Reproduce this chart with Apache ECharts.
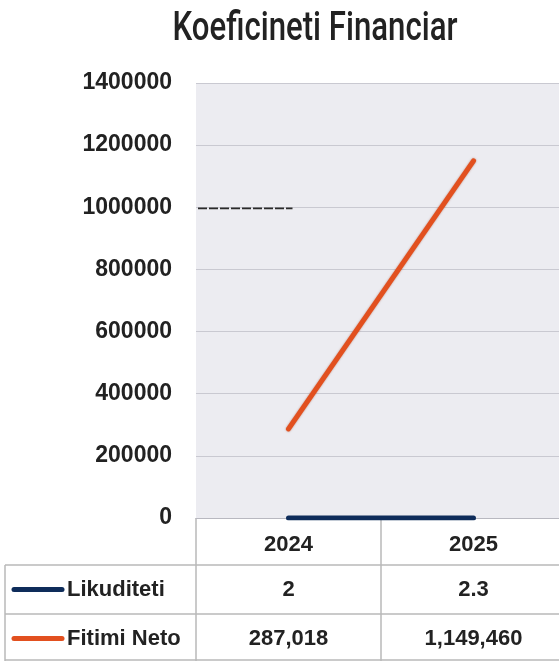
<!DOCTYPE html>
<html>
<head>
<meta charset="utf-8">
<script src="https://cdn.jsdelivr.net/npm/echarts@6/dist/echarts.min.js"></script>
<style>
html,body{margin:0;padding:0;overflow:hidden;background:#fff;}
#c{width:580px;height:661px;}
</style>
</head>
<body>
<div id="c"></div>
<script>
const titleText = 'Koeficineti Financiar';
const categories = ['2024', '2025'];
const likuditeti = [2, 2.3];
const fitimiNeto = [287018, 1149460];
const likuditetiLabels = ['2', '2.3'];
const fitimiNetoLabels = ['287,018', '1,149,460'];
const seriesNames = ['Likuditeti', 'Fitimi Neto'];
const refLineValue = 1000000;

const NAVY = '#0e2c5a';
const ORANGE = '#e2501f';
const TXT = '#222222';
const FONT = '"Liberation Sans", Arial, sans-serif';
const TITLE_FONT = 'Roboto, "Liberation Sans", sans-serif';

const chart = echarts.init(document.getElementById('c'));
const gridLeft = 196, gridTop = 83, gridBottom = 143, gridRight = 14;

chart.setOption({
  animation: false,
  grid: {left: gridLeft, top: gridTop, bottom: gridBottom, right: gridRight, show: true, backgroundColor: '#ececf1', borderWidth: 0},
  xAxis: {
    type: 'category', data: categories, boundaryGap: true,
    axisLine: {lineStyle: {color: '#b8b8c0', width: 1}},
    axisTick: {show: false},
    axisLabel: {fontFamily: FONT, fontSize: 22, fontWeight: 'bold', color: TXT, margin: 16}
  },
  yAxis: {
    type: 'value', min: 0, max: 1400000, interval: 200000,
    axisLine: {show: false}, axisTick: {show: false},
    splitLine: {lineStyle: {color: '#c9c9d1', width: 1}},
    axisLabel: {fontFamily: FONT, fontSize: 23, fontWeight: 'bold', color: TXT, margin: 24, formatter: v => String(v)}
  },
  series: [
    {
      name: seriesNames[0], type: 'line', data: likuditeti, symbol: 'none',
      lineStyle: {color: NAVY, width: 5, cap: 'round'}
    },
    {
      name: seriesNames[1], type: 'line', data: fitimiNeto, symbol: 'none',
      lineStyle: {color: ORANGE, width: 5, cap: 'round', shadowColor: 'rgba(150,40,0,0.5)', shadowBlur: 2}
    }
  ]
});

// Data table built from the axes' own scale
const centers = categories.map((c, i) => chart.convertToPixel({xAxisIndex: 0}, c));
const axisY = chart.convertToPixel({yAxisIndex: 0}, 0);
const refY = chart.convertToPixel({yAxisIndex: 0}, refLineValue);
const W = 580;
const plotL = gridLeft, plotR = W - gridRight;
const bands = [plotL];
for (let i = 0; i < centers.length - 1; i++) bands.push((centers[i] + centers[i + 1]) / 2);
bands.push(plotR);
const row1Top = 565, row2Top = 614, rowBottom = 661;
const tableLeft = 5;
const g = [];

// title, horizontally condensed to match the narrow face
const titleSize = 40;
const ctx = document.createElement('canvas').getContext('2d');
ctx.font = '500 ' + titleSize + 'px ' + TITLE_FONT;
const tw = ctx.measureText(titleText).width;
const sx = 285 / tw;
g.push({type: 'text', x: 315, y: 30, scaleX: sx, originX: 0, style: {text: titleText, fontFamily: TITLE_FONT, fontSize: titleSize, fontWeight: 500, fill: TXT, textAlign: 'center', textVerticalAlign: 'middle'}});

// short dashed reference segment
g.push({type: 'line', shape: {x1: plotL + 2, y1: refY + 1, x2: centers[0] + 4, y2: refY + 1}, style: {stroke: '#2a2a2a', lineWidth: 1.8, lineDash: [9, 2]}});

const lineStyle = {stroke: '#b8b8b8', lineWidth: 1.5};
bands.forEach(x => g.push({type: 'line', shape: {x1: x, y1: axisY, x2: x, y2: rowBottom}, style: lineStyle}));
g.push({type: 'line', shape: {x1: tableLeft, y1: row1Top, x2: tableLeft, y2: rowBottom}, style: lineStyle});
[row1Top, row2Top, rowBottom - 1].forEach(y => g.push({type: 'line', shape: {x1: tableLeft, y1: y, x2: plotR, y2: y}, style: lineStyle}));
const rows = [
  {name: seriesNames[0], color: NAVY, labels: likuditetiLabels, cy: (row1Top + row2Top) / 2},
  {name: seriesNames[1], color: ORANGE, labels: fitimiNetoLabels, cy: (row2Top + rowBottom) / 2 + 1}
];
rows.forEach(r => {
  g.push({type: 'line', shape: {x1: 14, y1: r.cy, x2: 62, y2: r.cy}, style: {stroke: r.color, lineWidth: 5, lineCap: 'round'}});
  g.push({type: 'text', x: 67, y: r.cy, style: {text: r.name, fontFamily: FONT, fontSize: 22, fontWeight: 'bold', fill: TXT, textVerticalAlign: 'middle', textAlign: 'left'}});
  r.labels.forEach((t, i) => g.push({type: 'text', x: centers[i], y: r.cy, style: {text: t, fontFamily: FONT, fontSize: 22, fontWeight: 'bold', fill: TXT, textVerticalAlign: 'middle', textAlign: 'center'}}));
});
chart.setOption({graphic: g});
</script>
</body>
</html>
